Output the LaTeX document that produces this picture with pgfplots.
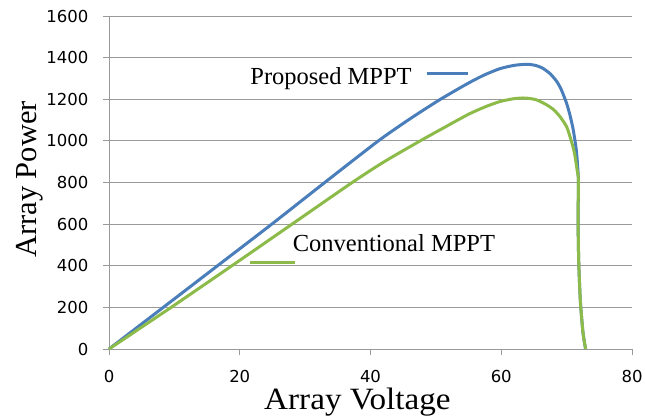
\documentclass[border=0pt]{standalone}
\usepackage{pgfplots}
\pgfplotsset{compat=1.18}
\usepackage{fontspec}
\setmainfont{Liberation Serif}
\newfontfamily\ticksf{DejaVu Sans}
\definecolor{pblue}{HTML}{4A7EBB}
\definecolor{cgreen}{HTML}{8DBB4A}
\definecolor{gridgray}{HTML}{9A9A9A}
\begin{document}
\begin{tikzpicture}[x=1pt,y=1pt]
\useasboundingbox (-109,-67) rectangle (536,349);
\begin{axis}[
  at={(0,0)}, anchor=south west,
  scale only axis, width=523pt, height=333pt,
  xmin=0, xmax=80, ymin=0, ymax=1600,
  xtick={0,20,40,60,80}, ytick={0,200,...,1600},
  axis x line*=bottom, axis y line*=left,
  axis line style={gridgray, line width=0.9pt, -},
  tick align=outside, major tick length=6pt,
  tick style={gridgray, line width=0.9pt},
  ymajorgrids, grid style={gridgray, line width=0.9pt},
  /pgf/number format/assume math mode=true,
  /pgf/number format/1000 sep={},
  ticklabel style={font=\ticksf\fontsize{16.5}{16.5}\selectfont, text=black},
  xticklabel style={yshift=-12pt},
  yticklabel shift=11pt,
  xlabel={Array Voltage}, ylabel={Array Power},
  xlabel style={font=\fontsize{31}{31}\selectfont, at={(axis description cs:0.475,0)}, anchor=base, inner sep=0pt, yshift=-60pt, xscale=1.07},
  ylabel style={font=\fontsize{30.5}{30.5}\selectfont, at={(axis description cs:0,0.5)}, anchor=south, xshift=3pt, yshift=62pt},
  clip=false,
]
\addplot[pblue, line width=3pt, line join=round, smooth, tension=0.4] coordinates {
(0,0)(8.3,200)(16.6,400)(24.9,600)(33.0,800)(41.2,1000)(46,1105)(50.6,1198)(55,1278)(57.5,1318)(59.8,1347)(62,1363)(63.9,1368)(65.2,1363)(66.3,1350)(67.5,1322)(68.5,1285)(69.2,1245)(70.0,1180)(70.5,1125)(71.0,1055)(71.5,950)(71.8,812)(71.75,620)(71.85,420)(72.1,230)(72.5,80)(72.9,0)
};
\addplot[cgreen, line width=3pt, line join=round, smooth, tension=0.4] coordinates {
(0,0)(9.5,200)(18.8,400)(28.0,600)(37.2,800)(42,898)(47.6,1000)(51.5,1068)(55,1128)(57.5,1163)(59.8,1189)(62,1203)(63.6,1206)(65.3,1198)(66.9,1174)(68,1150)(69,1116)(70.0,1068)(70.5,1022)(71.0,968)(71.3,924)(71.6,860)(71.8,812)(71.75,620)(71.85,420)(72.1,230)(72.5,80)(72.9,0)
};
\addplot[pblue, line width=3pt, forget plot] coordinates {(48.6,1325)(54.9,1325)};
\addplot[cgreen, line width=3pt, forget plot] coordinates {(21.6,417)(28.4,417)};
\node[anchor=base west, inner sep=0pt, font=\fontsize{24.5}{24.5}\selectfont] at (axis cs:21.6,1273) {Proposed MPPT};
\node[anchor=base west, inner sep=0pt, font=\fontsize{24.5}{24.5}\selectfont] at (axis cs:28.1,467) {Conventional MPPT};
\end{axis}
\end{tikzpicture}
\end{document}
